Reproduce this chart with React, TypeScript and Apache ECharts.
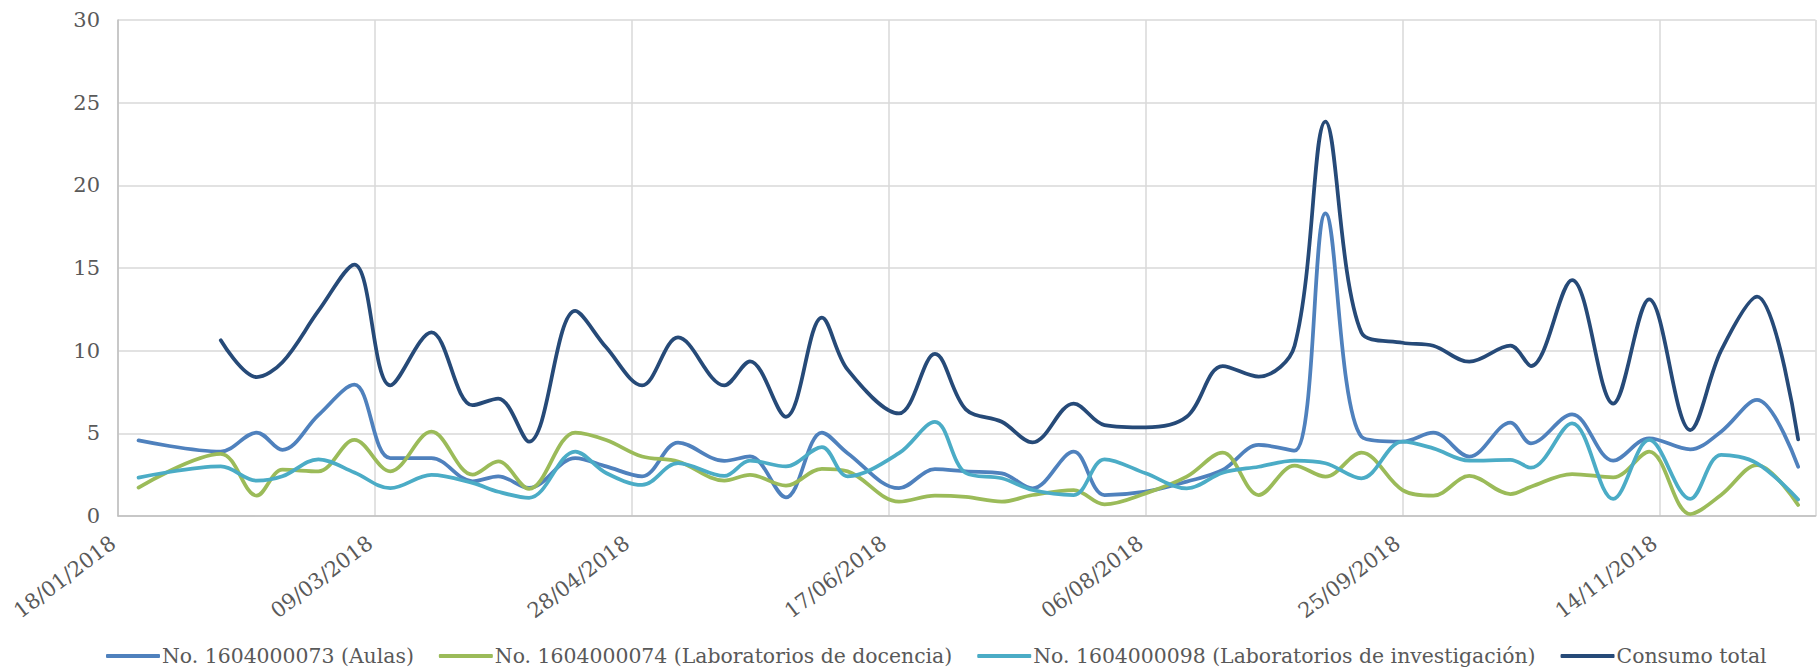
import React, { useEffect, useRef } from 'react';
import * as echarts from 'echarts';

// ---- data ----
const startDate = '2018-01-18';
const axisEndDay = 330.4; // right edge of the plot area, in days after startDate
const tickStepDays = 50;

const dates = [
  '2018-01-22', '2018-02-07', '2018-02-14', '2018-02-19', '2018-02-26', '2018-03-05',
  '2018-03-12', '2018-03-20', '2018-03-28', '2018-04-02', '2018-04-08', '2018-04-17',
  '2018-04-23', '2018-04-30', '2018-05-07', '2018-05-16', '2018-05-21', '2018-05-28',
  '2018-06-04', '2018-06-09', '2018-06-19', '2018-06-26', '2018-07-02', '2018-07-09',
  '2018-07-15', '2018-07-23', '2018-07-29', '2018-08-06', '2018-08-14', '2018-08-21',
  '2018-08-28', '2018-09-04', '2018-09-10', '2018-09-17', '2018-09-25', '2018-10-01',
  '2018-10-08', '2018-10-16', '2018-10-20', '2018-10-28', '2018-11-05', '2018-11-12',
  '2018-11-20', '2018-11-26', '2018-12-03', '2018-12-11',
];

const aulas = [
  4.57, 3.9, 5.05, 4.0, 6.1, 7.94, 3.5, 3.5, 2.1, 2.4, 1.7, 3.5,
  3.0, 2.4, 4.44, 3.33, 3.6, 1.13, 5.05, 3.8, 1.68, 2.83, 2.7, 2.58,
  1.67, 3.89, 1.27, 1.47, 2.08, 2.78, 4.3, 3.95, 18.3, 4.8, 4.5, 5.04,
  3.59, 5.65, 4.4, 6.15, 3.35, 4.7, 4.03, 5.1, 7.02, 2.98,
];

const docencia = [
  1.72, 3.76, 1.23, 2.8, 2.7, 4.6, 2.7, 5.1, 2.5, 3.3, 1.64, 5.05,
  4.6, 3.6, 3.3, 2.14, 2.48, 1.84, 2.85, 2.7, 0.87, 1.23, 1.15, 0.87,
  1.27, 1.57, 0.7, 1.37, 2.38, 3.83, 1.27, 3.05, 2.38, 3.83, 1.57, 1.23,
  2.42, 1.33, 1.77, 2.54, 2.34, 3.89, 0.12, 1.27, 3.08, 0.67,
];

const investigacion = [
  2.32, 3.0, 2.14, 2.4, 3.43, 2.63, 1.68, 2.48, 2.0, 1.47, 1.1, 3.9,
  2.6, 1.88, 3.2, 2.42, 3.35, 3.0, 4.16, 2.4, 3.8, 5.7, 2.6, 2.28,
  1.57, 1.27, 3.43, 2.58, 1.67, 2.62, 2.98, 3.35, 3.19, 2.28, 4.5, 4.09,
  3.35, 3.39, 2.92, 5.6, 1.03, 4.6, 1.03, 3.7, 3.19, 1.0,
];

const total = [
  null, 10.63, 8.4, 9.3, 12.4, 15.2, 7.9, 11.1, 6.7, 7.1, 4.5, 12.4,
  10.2, 7.9, 10.8, 7.9, 9.35, 6.0, 12.0, 8.85, 6.2, 9.8, 6.45, 5.7,
  4.45, 6.8, 5.5, 5.36, 6.0, 9.07, 8.43, 10.3, 23.85, 11.1, 10.48, 10.3,
  9.33, 10.3, 9.07, 14.27, 6.8, 13.1, 5.2, 10.0, 13.27, 4.64,
];

const seriesNames = [
  'No. 1604000073 (Aulas)',
  'No. 1604000074 (Laboratorios de docencia)',
  'No. 1604000098 (Laboratorios de investigación)',
  'Consumo total',
];
const seriesValues = [aulas, docencia, investigacion, total];
const seriesColors = ['#4f81bd', '#9bbb59', '#4bacc6', '#264a78'];

const yMin = 0;
const yMax = 30;
const yStep = 5;

// ---- helpers ----
const DAY_MS = 86400000;
const toUTC = (s: string) => {
  const [y, m, d] = s.split('-').map(Number);
  return Date.UTC(y, m - 1, d);
};
const dayOf = (s: string) => Math.round((toUTC(s) - toUTC(startDate)) / DAY_MS);
const pad = (n: number) => (n < 10 ? '0' + n : '' + n);
const fmtDay = (day: number) => {
  const dt = new Date(toUTC(startDate) + day * DAY_MS);
  return `${pad(dt.getUTCDate())}/${pad(dt.getUTCMonth() + 1)}/${dt.getUTCFullYear()}`;
};

const FONT = 'DejaVu Serif';
const TEXT_COLOR = '#595959';

export default function App() {
  const ref = useRef<HTMLDivElement>(null);

  useEffect(() => {
    if (!ref.current) return;
    const chart = echarts.init(ref.current, undefined, { renderer: 'svg' });

    const series = seriesValues.map((vals, i) => ({
      name: seriesNames[i],
      type: 'line',
      smooth: 0.35,
      showSymbol: false,
      symbol: 'none',
      connectNulls: false,
      color: seriesColors[i],
      lineStyle: { color: seriesColors[i], width: 3.75, cap: 'round', join: 'round' },
      data: dates
        .map((d, j) => [dayOf(d), vals[j]])
        .filter((p) => p[1] !== null && p[1] !== undefined),
    }));

    chart.setOption({
      animation: false,
      backgroundColor: '#ffffff',
      textStyle: { fontFamily: FONT, color: TEXT_COLOR },
      grid: { left: 118, right: 0, top: 20, bottom: 154, containLabel: false },
      xAxis: {
        type: 'value',
        min: 0,
        max: axisEndDay,
        interval: tickStepDays,
        axisLine: { show: true, lineStyle: { color: '#bfbfbf', width: 1.5 } },
        axisTick: { show: false },
        splitLine: { show: true, lineStyle: { color: '#d9d9d9', width: 1.5 } },
        axisLabel: {
          rotate: 37,
          margin: 21,
          padding: [0, 6, 0, 0],
          fontSize: 21,
          fontFamily: FONT,
          color: TEXT_COLOR,
          formatter: (v: number) => (Math.abs(v % tickStepDays) < 1e-6 ? fmtDay(v) : ''),
        },
      },
      yAxis: {
        type: 'value',
        min: yMin,
        max: yMax,
        interval: yStep,
        axisLine: { show: true, lineStyle: { color: '#bfbfbf', width: 1.5 } },
        axisTick: { show: false },
        splitLine: { show: true, lineStyle: { color: '#d9d9d9', width: 1.5 } },
        axisLabel: { margin: 18, fontSize: 21, fontFamily: FONT, color: TEXT_COLOR },
      },
      legend: {
        show: true,
        left: 101,
        top: 641,
        icon: 'roundRect',
        itemWidth: 54,
        itemHeight: 4,
        itemGap: 25,
        data: seriesNames,
        textStyle: { fontFamily: FONT, fontSize: 20.4, color: TEXT_COLOR, padding: [0, 0, 0, -3] },
      },
      series,
    });

    return () => chart.dispose();
  }, []);

  return (
    <div
      ref={ref}
      style={{ position: 'absolute', left: 0, top: 0, width: 1818, height: 670, background: '#fff' }}
    />
  );
}
